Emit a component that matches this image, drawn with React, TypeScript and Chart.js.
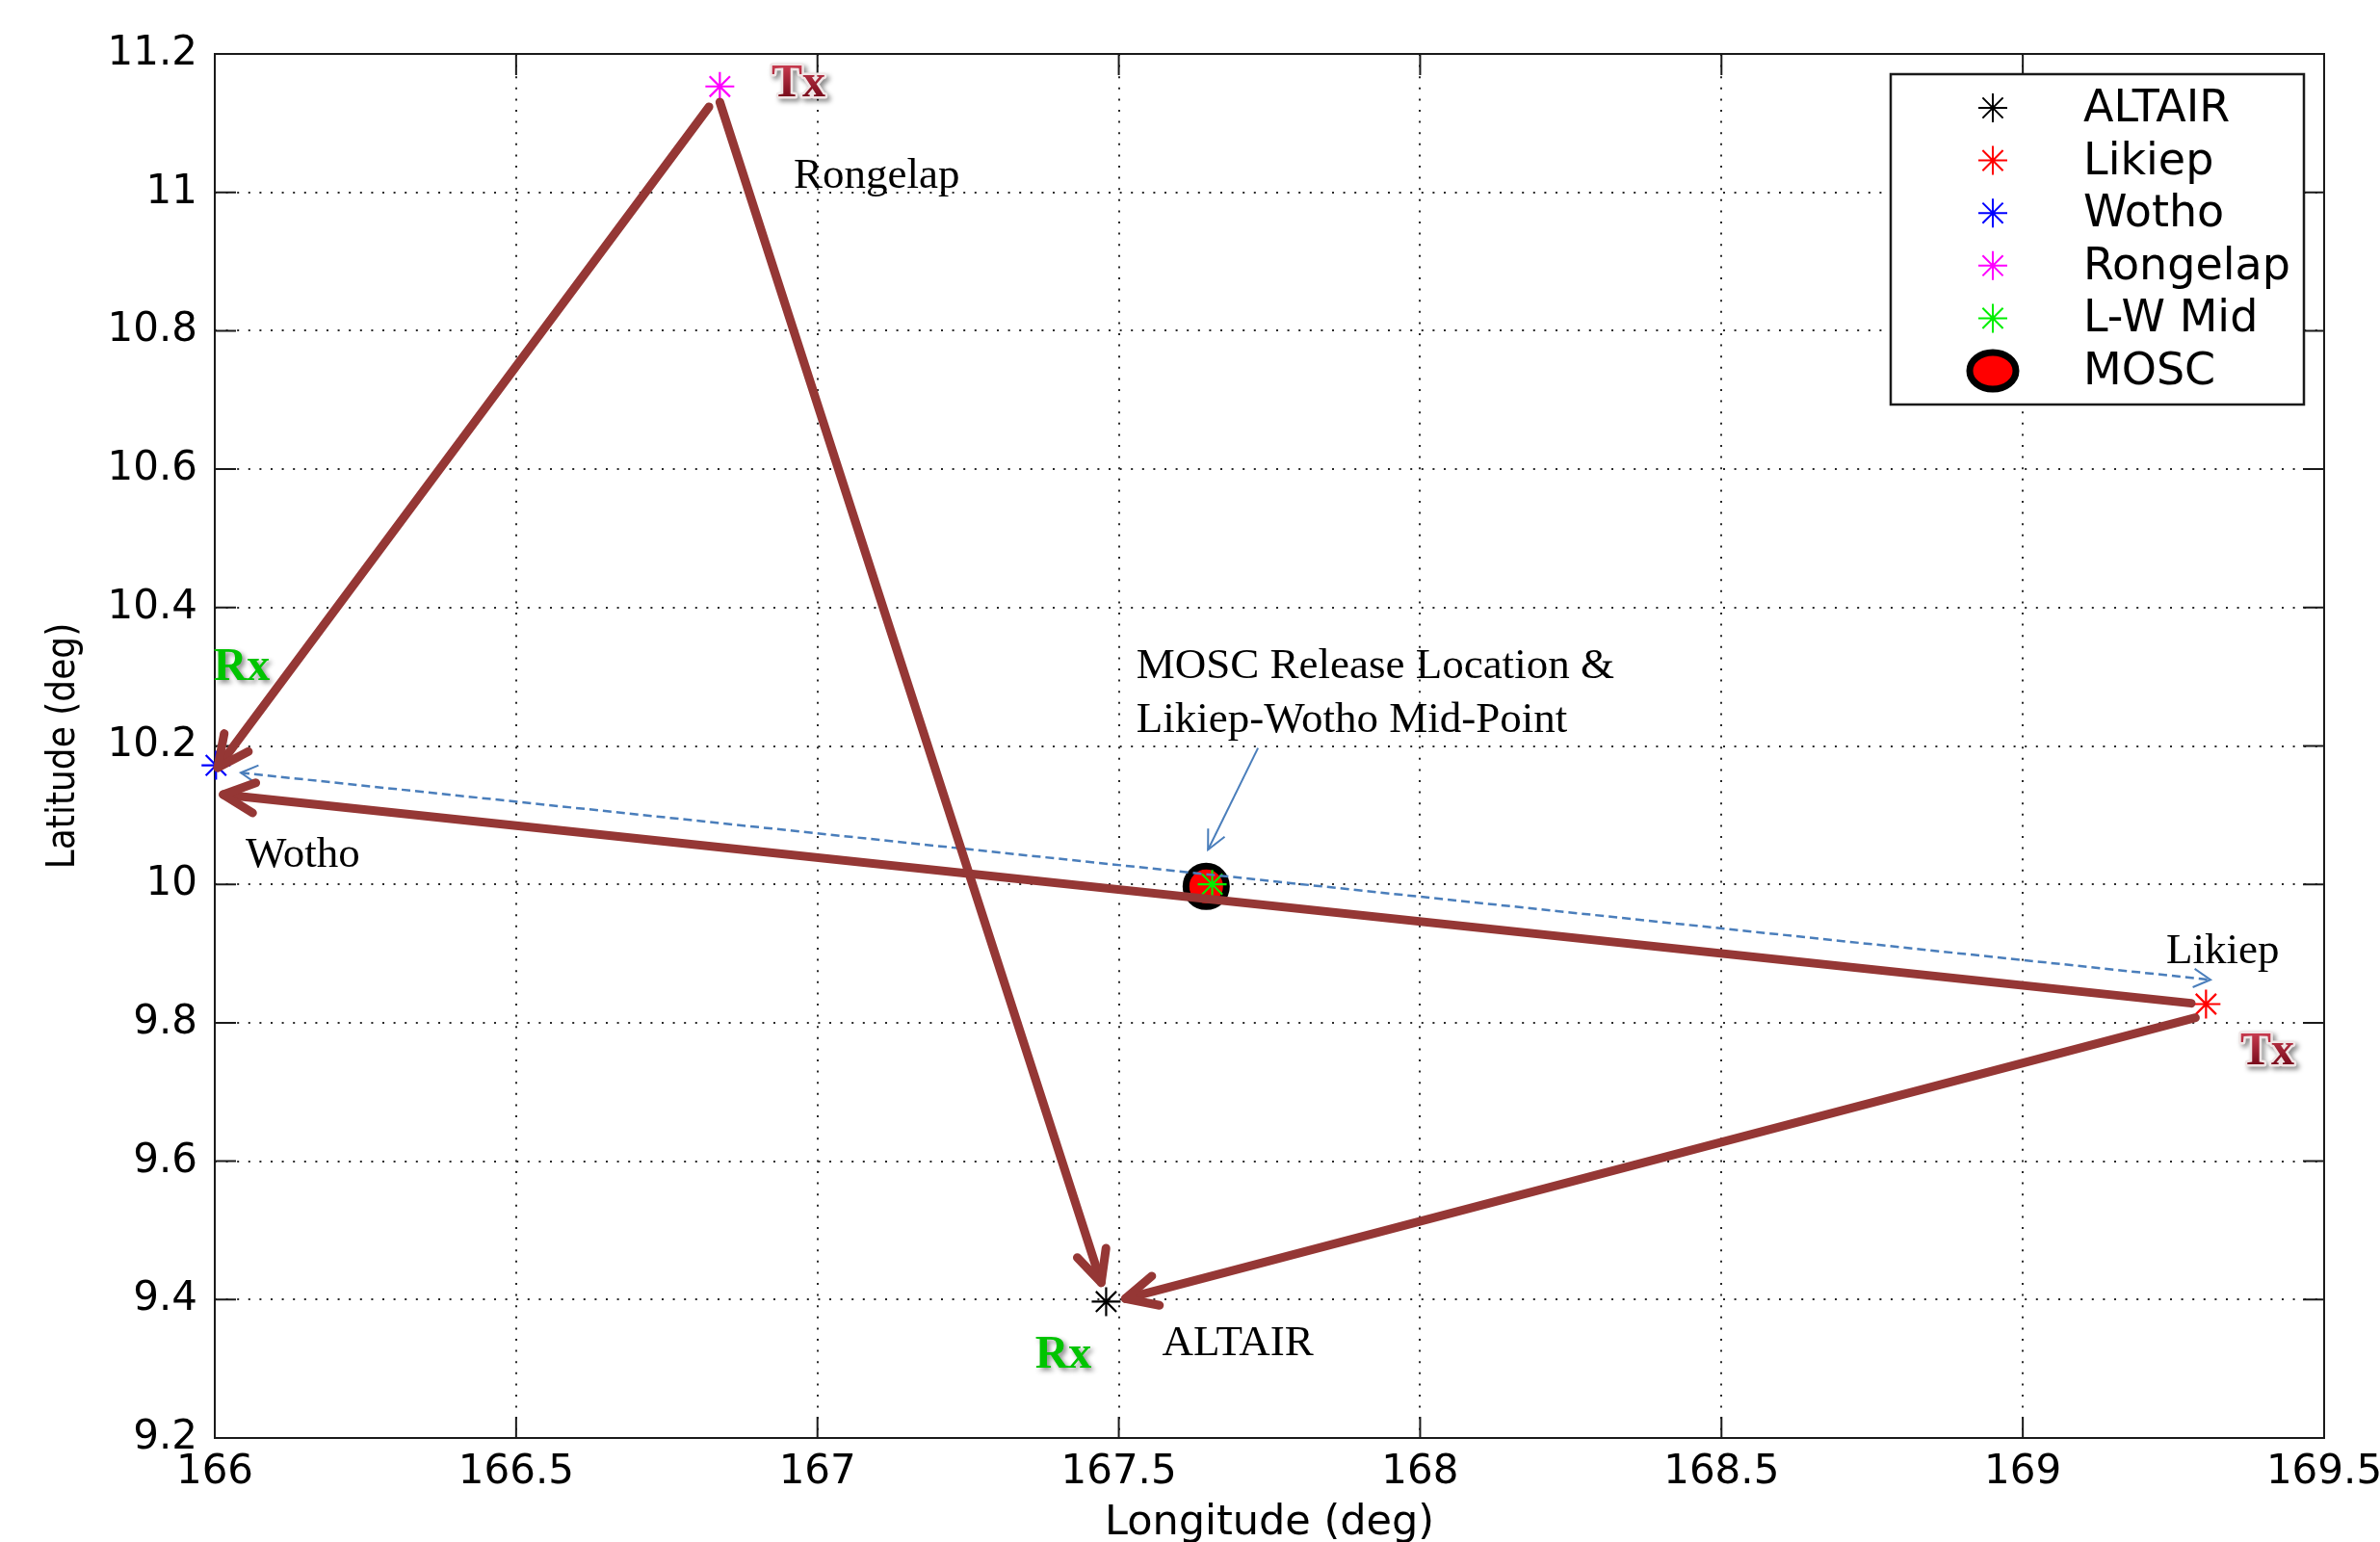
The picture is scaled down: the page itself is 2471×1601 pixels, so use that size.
import React, { useEffect, useRef } from 'react';
import { Chart, registerables } from 'chart.js';

Chart.register(...registerables);

// ---------- data ----------
const siteNames = ['ALTAIR', 'Likiep', 'Wotho', 'Rongelap', 'L-W Mid', 'MOSC'];
const siteLon = [167.479, 169.304, 166.002, 166.838, 167.655, 167.645];
const siteLat = [9.397, 9.827, 10.172, 11.153, 10.0, 9.997];
const siteColors = ['#000000', '#ff0000', '#0000ff', '#ff00ff', '#00ee00', '#ff0000'];

const lonTicks = [166, 166.5, 167, 167.5, 168, 168.5, 169, 169.5];
const lonTickLabels = ['166', '166.5', '167', '167.5', '168', '168.5', '169', '169.5'];
const latTicks = [9.2, 9.4, 9.6, 9.8, 10, 10.2, 10.4, 10.6, 10.8, 11, 11.2];
const latTickLabels = ['9.2', '9.4', '9.6', '9.8', '10', '10.2', '10.4', '10.6', '10.8', '11', '11.2'];

// propagation paths (Tx -> Rx), drawn as thick arrows
const pathFromLon = [166.82, 166.838, 169.2795, 169.2865];
const pathFromLat = [11.1235, 11.1304, 9.8282, 9.8073];
const pathToLon = [166.0048, 167.4708, 166.0139, 167.511];
const pathToLat = [10.1687, 9.4245, 10.1297, 9.4014];

// Likiep-Wotho baseline (dashed, double headed)
const baselineLon = [166.0431, 169.3115];
const baselineLat = [10.1613, 9.8621];

// callout arrow to the release point
const calloutLon = [167.731, 167.648];
const calloutLat = [10.197, 10.05];

const placeLabels = ['Rongelap', 'Wotho', 'Likiep', 'ALTAIR', 'MOSC Release Location &', 'Likiep-Wotho Mid-Point'];
const placeLabelLon = [166.9605, 166.051, 169.238, 167.572, 167.529, 167.529];
const placeLabelLat = [11.0065, 10.025, 9.886, 9.319, 10.298, 10.22];

const roleLabels = ['Tx', 'Rx', 'Tx', 'Rx'];
const roleLon = [166.9685, 166.0447, 169.4057, 167.408];
const roleLat = [11.1388, 10.2953, 9.74, 9.3016];

// ---------- drawing helpers ----------
const BROWN = '#953735';
const BLUE = '#4a7ebb';

function drawStar(ctx: any, x: number, y: number, r: number, color: string, lw: number) {
  ctx.save();
  ctx.strokeStyle = color;
  ctx.lineWidth = lw;
  ctx.beginPath();
  for (let k = 0; k < 4; k++) {
    const a = (k * Math.PI) / 4;
    const dx = Math.cos(a) * r;
    const dy = Math.sin(a) * r;
    ctx.moveTo(x - dx, y - dy);
    ctx.lineTo(x + dx, y + dy);
  }
  ctx.stroke();
  ctx.fillStyle = color;
  ctx.beginPath();
  ctx.arc(x, y, lw * 1.2, 0, Math.PI * 2);
  ctx.fill();
  ctx.restore();
}

function drawHead(ctx: any, tipX: number, tipY: number, fromX: number, fromY: number, len: number, half: number) {
  const ang = Math.atan2(fromY - tipY, fromX - tipX);
  ctx.beginPath();
  ctx.moveTo(tipX + Math.cos(ang + half) * len, tipY + Math.sin(ang + half) * len);
  ctx.lineTo(tipX, tipY);
  ctx.lineTo(tipX + Math.cos(ang - half) * len, tipY + Math.sin(ang - half) * len);
  ctx.stroke();
}

const overlayPlugin = {
  id: 'overlay',
  beforeDatasetsDraw(chart: any) {
    const { ctx, chartArea: a, scales } = chart;
    const x = scales.x;
    const y = scales.y;
    ctx.save();
    ctx.strokeStyle = '#1a1a1a';
    ctx.lineWidth = 2;
    ctx.setLineDash([]);
    ctx.strokeRect(a.left, a.top, a.right - a.left, a.bottom - a.top);
    const tl = 22;
    ctx.beginPath();
    lonTicks.forEach((v) => {
      const px = x.getPixelForValue(v);
      ctx.moveTo(px, a.bottom);
      ctx.lineTo(px, a.bottom - tl);
      ctx.moveTo(px, a.top);
      ctx.lineTo(px, a.top + tl);
    });
    latTicks.forEach((v) => {
      const py = y.getPixelForValue(v);
      ctx.moveTo(a.left, py);
      ctx.lineTo(a.left + tl, py);
      ctx.moveTo(a.right, py);
      ctx.lineTo(a.right - tl, py);
    });
    ctx.stroke();
    ctx.restore();
  },
  afterDatasetsDraw(chart: any) {
    const { ctx, scales } = chart;
    const x = scales.x;
    const y = scales.y;
    ctx.save();

    // dashed baseline with heads at both ends
    const b1x = x.getPixelForValue(baselineLon[0]);
    const b1y = y.getPixelForValue(baselineLat[0]);
    const b2x = x.getPixelForValue(baselineLon[1]);
    const b2y = y.getPixelForValue(baselineLat[1]);
    ctx.strokeStyle = BLUE;
    ctx.lineWidth = 2.5;
    ctx.setLineDash([9, 5]);
    ctx.beginPath();
    ctx.moveTo(b1x, b1y);
    ctx.lineTo(b2x, b2y);
    ctx.stroke();
    ctx.setLineDash([]);
    ctx.lineWidth = 2;
    drawHead(ctx, b1x, b1y, b2x, b2y, 20, 0.5);
    drawHead(ctx, b2x, b2y, b1x, b1y, 20, 0.5);

    // callout arrow
    const c1x = x.getPixelForValue(calloutLon[0]);
    const c1y = y.getPixelForValue(calloutLat[0]);
    const c2x = x.getPixelForValue(calloutLon[1]);
    const c2y = y.getPixelForValue(calloutLat[1]);
    ctx.lineWidth = 2;
    ctx.beginPath();
    ctx.moveTo(c1x, c1y);
    ctx.lineTo(c2x, c2y);
    ctx.stroke();
    drawHead(ctx, c2x, c2y, c1x, c1y, 22, 0.45);

    // thick propagation arrows
    ctx.strokeStyle = BROWN;
    ctx.lineWidth = 9;
    ctx.lineCap = 'round';
    ctx.lineJoin = 'round';
    for (let i = 0; i < pathFromLon.length; i++) {
      const fx = x.getPixelForValue(pathFromLon[i]);
      const fy = y.getPixelForValue(pathFromLat[i]);
      const tx = x.getPixelForValue(pathToLon[i]);
      const ty = y.getPixelForValue(pathToLat[i]);
      ctx.beginPath();
      ctx.moveTo(fx, fy);
      ctx.lineTo(tx, ty);
      ctx.stroke();
      drawHead(ctx, tx, ty, fx, fy, 36, 0.45);
    }

    // place labels
    ctx.lineCap = 'butt';
    ctx.fillStyle = '#000';
    ctx.font = '45px "Liberation Serif", "Times New Roman", serif';
    ctx.textAlign = 'left';
    ctx.textBaseline = 'alphabetic';
    placeLabels.forEach((t, i) => {
      ctx.fillText(t, x.getPixelForValue(placeLabelLon[i]), y.getPixelForValue(placeLabelLat[i]));
    });

    // Tx / Rx role labels
    ctx.font = 'bold 48px "Liberation Serif", "Times New Roman", serif';
    ctx.textAlign = 'center';
    roleLabels.forEach((t, i) => {
      const px = x.getPixelForValue(roleLon[i]);
      const py = y.getPixelForValue(roleLat[i]);
      ctx.save();
      ctx.shadowColor = 'rgba(0,0,0,0.45)';
      ctx.shadowBlur = 5;
      ctx.shadowOffsetX = 3;
      ctx.shadowOffsetY = 3;
      if (t === 'Tx') {
        ctx.strokeStyle = '#efe6e6';
        ctx.lineWidth = 5;
        ctx.lineJoin = 'round';
        ctx.strokeText(t, px, py);
        ctx.shadowColor = 'rgba(0,0,0,0)';
        const g = ctx.createLinearGradient(0, py - 32, 0, py);
        g.addColorStop(0, '#c73a4e');
        g.addColorStop(1, '#7a0c1c');
        ctx.fillStyle = g;
        ctx.fillText(t, px, py);
      } else {
        ctx.fillStyle = '#00c400';
        ctx.fillText(t, px, py);
      }
      ctx.restore();
    });
    ctx.restore();
  },
  afterDraw(chart: any) {
    const { ctx } = chart;
    ctx.save();
    const bx = 1963;
    const by = 77;
    const bw = 429;
    const bh = 343;
    ctx.fillStyle = '#fff';
    ctx.fillRect(bx, by, bw, bh);
    ctx.strokeStyle = '#1a1a1a';
    ctx.lineWidth = 2.5;
    ctx.strokeRect(bx, by, bw, bh);
    const mx = 2069;
    const tx = 2163;
    const y0 = 112;
    const dy = 54.6;
    ctx.font = '46px "DejaVu Sans", sans-serif';
    ctx.textAlign = 'left';
    ctx.textBaseline = 'middle';
    siteNames.forEach((name, i) => {
      const yy = y0 + i * dy;
      if (name === 'MOSC') {
        ctx.beginPath();
        ctx.ellipse(mx, yy, 24, 19, 0, 0, Math.PI * 2);
        ctx.fillStyle = siteColors[i];
        ctx.fill();
        ctx.lineWidth = 7;
        ctx.strokeStyle = '#000';
        ctx.stroke();
      } else {
        drawStar(ctx, mx, yy, 15, siteColors[i], 2);
      }
      ctx.fillStyle = '#000';
      ctx.fillText(name, tx, yy + 2);
    });
    ctx.restore();
  },
};

export default function App() {
  const canvasRef = useRef<HTMLCanvasElement | null>(null);

  useEffect(() => {
    const canvas = canvasRef.current;
    if (!canvas) return;
    const datasets = siteNames.map((name, i) => ({
      label: name,
      data: [{ x: siteLon[i], y: siteLat[i] }],
      pointStyle: name === 'MOSC' ? 'circle' : 'star',
      pointRadius: name === 'MOSC' ? 21 : 15,
      borderWidth: name === 'MOSC' ? 7 : 2.2,
      borderColor: name === 'MOSC' ? '#000000' : siteColors[i],
      backgroundColor: siteColors[i],
      showLine: false,
      clip: false,
      order: name === 'MOSC' ? 5 : 0,
    }));

    const tickFont = { family: '"DejaVu Sans", sans-serif', size: 42 };

    const chart = new Chart(canvas, {
      type: 'scatter',
      data: { datasets } as any,
      options: {
        responsive: false,
        animation: false,
        devicePixelRatio: 1,
        events: [],
        layout: { padding: { top: 56, right: 58, left: 0, bottom: 0 } },
        plugins: {
          legend: { display: false },
          tooltip: { enabled: false },
        },
        scales: {
          x: {
            type: 'linear',
            min: 166,
            max: 169.5,
            afterBuildTicks: (s: any) => {
              s.ticks = lonTicks.map((v) => ({ value: v }));
            },
            afterFit: (s: any) => {
              s.height = 108;
              s.paddingLeft = 0;
              s.paddingRight = 0;
            },
            grid: { color: '#2a2a2a', lineWidth: 2, drawTicks: false },
            border: { display: false, dash: [2, 9.6] },
            ticks: {
              callback: (_v: any, i: number) => lonTickLabels[i],
              font: tickFont,
              color: '#000',
              padding: 11,
              maxRotation: 0,
              autoSkip: false,
            },
            title: {
              display: true,
              text: 'Longitude (deg)',
              color: '#000',
              font: { family: '"DejaVu Sans", sans-serif', size: 43 },
              padding: { top: 0, bottom: -7 },
            },
          },
          y: {
            type: 'linear',
            min: 9.2,
            max: 11.2,
            afterBuildTicks: (s: any) => {
              s.ticks = latTicks.map((v) => ({ value: v }));
            },
            afterFit: (s: any) => {
              s.width = 223;
              s.paddingTop = 0;
              s.paddingBottom = 0;
            },
            grid: { color: '#2a2a2a', lineWidth: 2, drawTicks: false },
            border: { display: false, dash: [2, 9.6] },
            ticks: {
              callback: (_v: any, i: number) => latTickLabels[i],
              font: tickFont,
              color: '#000',
              padding: 18,
              autoSkip: false,
            },
            title: {
              display: true,
              text: 'Latitude (deg)',
              color: '#000',
              font: { family: '"DejaVu Sans Condensed", "DejaVu Sans", sans-serif', size: 40 },
              padding: { top: 43, bottom: 0 },
            },
          },
        },
      } as any,
      plugins: [overlayPlugin],
    });

    return () => {
      chart.destroy();
    };
  }, []);

  return (
    <div
      style={{
        position: 'fixed',
        left: 0,
        top: 0,
        width: 2471,
        height: 1601,
        background: '#ffffff',
      }}
    >
      <canvas ref={canvasRef} width={2471} height={1601} style={{ display: 'block' }} />
    </div>
  );
}
